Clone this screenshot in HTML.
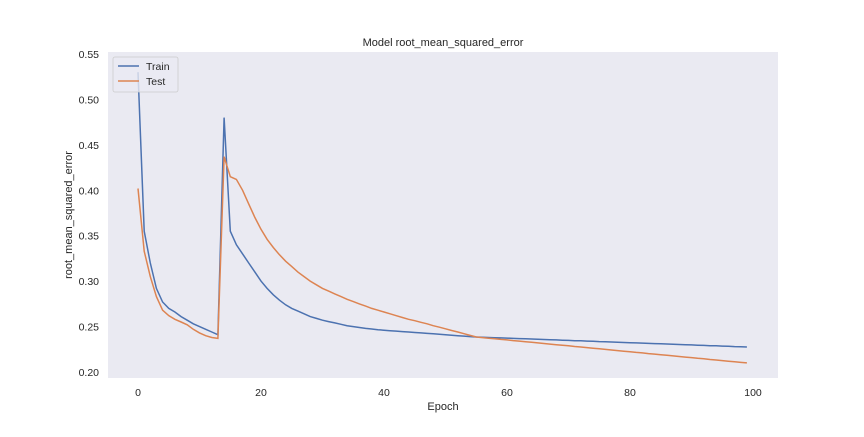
<!DOCTYPE html>
<html><head><meta charset="utf-8"><style>
body{margin:0;background:#fff;}
svg text{font-family:"Liberation Sans",Arial,sans-serif;fill:#262626;}
</style></head><body>
<svg width="864" height="432">
<rect x="108" y="52" width="670" height="326" fill="#eaeaf2"/>
<text x="443" y="46" font-size="11" text-anchor="middle">Model root_mean_squared_error</text>
<text x="443" y="410" font-size="11" text-anchor="middle">Epoch</text>
<text transform="translate(72,215) rotate(-90)" font-size="11" text-anchor="middle">root_mean_squared_error</text>
<g id="xt"></g><g id="yt"></g>
<path id="train" fill="none" stroke="#4c72b0" stroke-width="1.5"/>
<path id="test" fill="none" stroke="#dd8452" stroke-width="1.5"/>
<g>
<rect x="113" y="57" width="65" height="35" rx="2" fill="#eaeaf2" fill-opacity="0.8" stroke="#ccc" stroke-width="0.8"/>
<line x1="118" y1="66" x2="139" y2="66" stroke="#4c72b0" stroke-width="1.5"/>
<text x="146" y="70" font-size="10.5">Train</text>
<line x1="118" y1="81" x2="139" y2="81" stroke="#dd8452" stroke-width="1.5"/>
<text x="146" y="85" font-size="10.5">Test</text>
</g>
</svg>
<script>
const xTicks=[0,20,40,60,80,100];
const yTicks=[0.20,0.25,0.30,0.35,0.40,0.45,0.50,0.55];
const trainVals=[0.53,0.355,0.32,0.292,0.277,0.27,0.266,0.261,0.257,0.253,0.25,0.247,0.244,0.241,0.48,0.355,0.34,0.33,0.32,0.31,0.30,0.292,0.285,0.279,0.274,0.270,0.267,0.264,0.261,0.259,
0.257,0.2555,0.254,0.2525,0.251,0.250,0.249,0.248,0.2473,0.2466,0.246,0.2455,0.245,0.2445,0.244,0.2435,0.243,0.2425,0.242,0.2415,0.241,0.2405,0.240,0.2395,0.239,0.2385,
0.2383,0.238,0.2378,0.2375,0.2373,0.237,0.2368,0.2365,0.2363,0.236,0.2358,0.2355,0.2353,0.235,0.2348,0.2345,0.2343,0.234,0.2338,0.2335,0.2333,0.233,0.2328,0.2325,0.2323,0.232,0.2318,0.2315,0.2313,0.231,0.2308,0.2305,0.2303,0.23,0.2298,0.2295,0.2293,0.229,0.2288,0.2285,0.2283,0.228,0.2278,0.2275];
const testVals=[0.402,0.333,0.305,0.283,0.268,0.262,0.258,0.255,0.252,0.247,0.243,0.240,0.238,0.237,0.437,0.415,0.412,0.400,0.385,0.370,0.357,0.346,0.337,0.329,0.322,0.316,0.310,0.305,0.300,0.296,
0.292,0.289,0.286,0.283,0.280,0.2775,0.275,0.2725,0.270,0.268,0.266,0.264,0.262,0.260,0.258,0.2565,0.2547,0.253,0.251,0.2493,0.2475,0.2457,0.244,0.2422,0.2403,0.2385,
0.2379,0.2372,0.2366,0.2359,0.2353,0.2346,0.2340,0.2333,0.2327,0.232,0.2314,0.2307,0.2301,0.2294,0.2288,0.2281,0.2275,0.2268,0.2262,0.2255,0.2249,0.2242,0.2236,0.2229,0.2223,0.2216,0.221,0.2203,0.2197,0.219,0.2184,0.2177,0.2171,0.2164,0.2158,0.2151,0.2145,0.2138,0.2132,0.2125,0.2119,0.2112,0.2106,0.21];
const NS='http://www.w3.org/2000/svg';
function xs(v){return 138+v*6.15;}
function ys(v){return 372-(v-0.2)*908.6;}
const xt=document.getElementById('xt'),yt=document.getElementById('yt');
xTicks.forEach(t=>{const e=document.createElementNS(NS,'text');


e.setAttribute('x',xs(t));e.setAttribute('y',396);e.setAttribute('font-size','10.5');e.setAttribute('text-anchor','middle');e.textContent=t;xt.appendChild(e);});
yTicks.forEach(t=>{const e=document.createElementNS(NS,'text');


e.setAttribute('x',99);e.setAttribute('y',ys(t)+4);e.setAttribute('font-size','10.5');e.setAttribute('text-anchor','end');e.textContent=t.toFixed(2);yt.appendChild(e);});
function path(a){return a.map((v,i)=>(i?'L':'M')+xs(i).toFixed(1)+','+ys(v).toFixed(1)).join('');}
document.getElementById('train').setAttribute('d',path(trainVals));
document.getElementById('test').setAttribute('d',path(testVals));
</script>
</body></html>
